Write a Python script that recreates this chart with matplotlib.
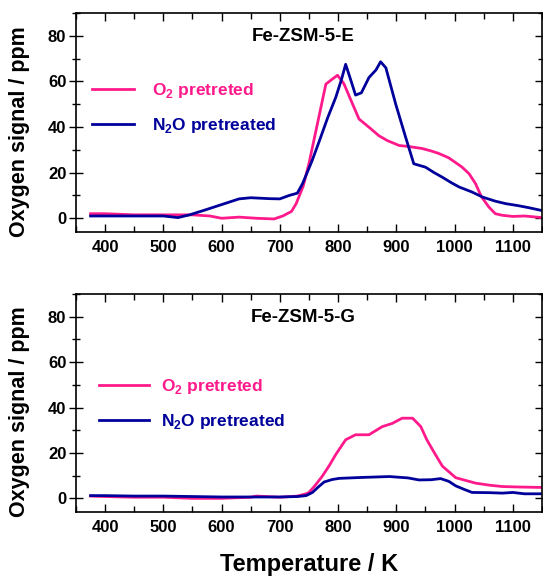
import matplotlib
matplotlib.use("Agg")
import matplotlib.pyplot as plt
from matplotlib.ticker import MultipleLocator

plt.rcParams['font.family'] = 'Liberation Sans'
plt.rcParams['font.weight'] = 'bold'
plt.rcParams['mathtext.fontset'] = 'custom'
plt.rcParams['mathtext.rm'] = 'Liberation Sans:bold'
plt.rcParams['mathtext.bf'] = 'Liberation Sans:bold'

PINK = '#ff1a8c'
NAVY = '#00009a'

# Fe-ZSM-5-E, O2 pretreated
e_o2_T = [375, 400, 450, 500, 550, 580, 600, 630, 660, 690, 705, 720, 728, 740, 750,
          765, 779, 790, 799, 810, 825, 836, 855, 870, 885, 905, 920, 944, 960, 973,
          990, 1013, 1025, 1036, 1046, 1059, 1070, 1082, 1100, 1120, 1150]
e_o2_v = [2, 2, 1.5, 1.5, 1.5, 1, 0, 0.5, 0, -0.3, 1, 3, 6.4, 14, 24,
          42, 58.8, 61, 62.7, 59, 50, 43.5, 39.5, 36.2, 34, 31.9, 31.5, 30.6, 29.5, 28.4,
          26.5, 22.4, 19.5, 15.2, 9.5, 4.9, 2, 1.3, 0.8, 1, 0.3]

# Fe-ZSM-5-E, N2O pretreated
e_n2o_T = [375, 400, 450, 500, 525, 545, 570, 600, 630, 650, 682, 700, 716, 730, 739,
           755, 768, 782, 796, 806, 813, 820, 830, 840, 853, 865, 873, 882, 899, 916,
           930, 950, 965, 979, 995, 1008, 1030, 1048, 1070, 1088, 1110, 1130, 1148]
e_n2o_v = [1, 1, 1, 1, 0.3, 1.5, 3.5, 6, 8.5, 9, 8.6, 8.5, 10, 11, 15.2,
           25, 34, 44, 53, 61, 67.5, 62, 54, 55, 61.7, 65, 68.6, 66, 50, 35.5,
           23.9, 22.4, 20, 18, 15.5, 13.7, 11.5, 9.3, 7.5, 6.4, 5.5, 4.5, 3.5]

# Fe-ZSM-5-G, O2 pretreated
g_o2_T = [375, 400, 450, 500, 550, 600, 650, 660, 700, 730, 745, 750, 760, 773, 785,
          796, 813, 830, 853, 876, 893, 910, 928, 942, 952, 962, 979, 1002, 1036,
          1060, 1082, 1110, 1150]
g_o2_v = [1, 0.8, 0.5, 0.5, 0, 0, 0.5, 1, 0.5, 1, 2, 2.6, 5.5, 9.8, 14.5,
          19.3, 25.8, 28, 28, 31.6, 33, 35.3, 35.3, 31.6, 26, 21.5, 14.2, 9.1, 6.7,
          5.8, 5.2, 5, 4.8]

# Fe-ZSM-5-G, N2O pretreated
g_n2o_T = [375, 400, 450, 500, 550, 600, 650, 700, 730, 745, 756, 766, 776, 790, 802,
           840, 888, 920, 939, 960, 976, 990, 1002, 1016, 1030, 1060, 1082, 1100, 1120, 1150]
g_n2o_v = [1.2, 1.2, 1, 1, 0.8, 0.6, 0.6, 0.6, 0.8, 1.2, 2.6, 5, 7.2, 8.3, 8.8,
           9.2, 9.6, 9, 8.1, 8.2, 8.7, 7.5, 5.5, 4, 2.6, 2.5, 2.3, 2.6, 2, 2]

fig = plt.figure(figsize=(5.43, 5.77), dpi=100)
ax_e = fig.add_axes([0.14, 0.598, 0.858, 0.3795])
ax_g = fig.add_axes([0.14, 0.1127, 0.858, 0.3778])

# axes, title, curves, legend anchor, handle length, text pad
panels = [
    (ax_e, 'Fe-ZSM-5-E', e_o2_T, e_o2_v, e_n2o_T, e_n2o_v, (0.0, 0.565), 2.45, 1.0),
    (ax_g, 'Fe-ZSM-5-G', g_o2_T, g_o2_v, g_n2o_T, g_n2o_v, (0.015, 0.494), 2.9, 0.7),
]

for ax, name, t1, v1, t2, v2, anchor, hlen, tpad in panels:
    ax.plot(t1, v1, color=PINK, lw=2.0, label='O$_2$ pretreted')
    ax.plot(t2, v2, color=NAVY, lw=2.0, label='N$_2$O pretreated')
    ax.set_xlim(350, 1150)
    ax.set_ylim(-6, 90)
    ax.xaxis.set_major_locator(MultipleLocator(100))
    ax.xaxis.set_minor_locator(MultipleLocator(50))
    ax.yaxis.set_major_locator(MultipleLocator(20))
    ax.yaxis.set_minor_locator(MultipleLocator(10))
    ax.tick_params(axis='x', which='both', direction='in', top=True, labelsize=12, pad=6)
    ax.tick_params(axis='x', which='major', length=6, width=1)
    ax.tick_params(axis='x', which='minor', length=4, width=1)
    ax.tick_params(axis='y', which='both', direction='inout', right=True, labelsize=12, pad=2)
    ax.tick_params(axis='y', which='major', length=10, width=1)
    ax.tick_params(axis='y', which='minor', length=6, width=1)
    for lab in ax.get_xticklabels() + ax.get_yticklabels():
        lab.set_fontweight('bold')
    for sp in ax.spines.values():
        sp.set_linewidth(1.2)
    ax.set_ylabel('Oxygen signal / ppm', fontsize=15.5, fontweight='bold')
    ax.yaxis.set_label_coords(-0.098, 0.46)
    ax.text(0.488, 0.894, name, transform=ax.transAxes, ha='center', va='center',
            fontsize=13.5, fontweight='bold')
    ax.legend(loc='center left', bbox_to_anchor=anchor, frameon=False,
              handlelength=hlen, handletextpad=tpad, labelspacing=0.9,
              labelcolor='linecolor', prop={'weight': 'bold', 'size': 12.5})

ax_g.set_xlabel('Temperature / K', fontsize=17, fontweight='bold', labelpad=13)

fig.savefig('out.png', dpi=100)
